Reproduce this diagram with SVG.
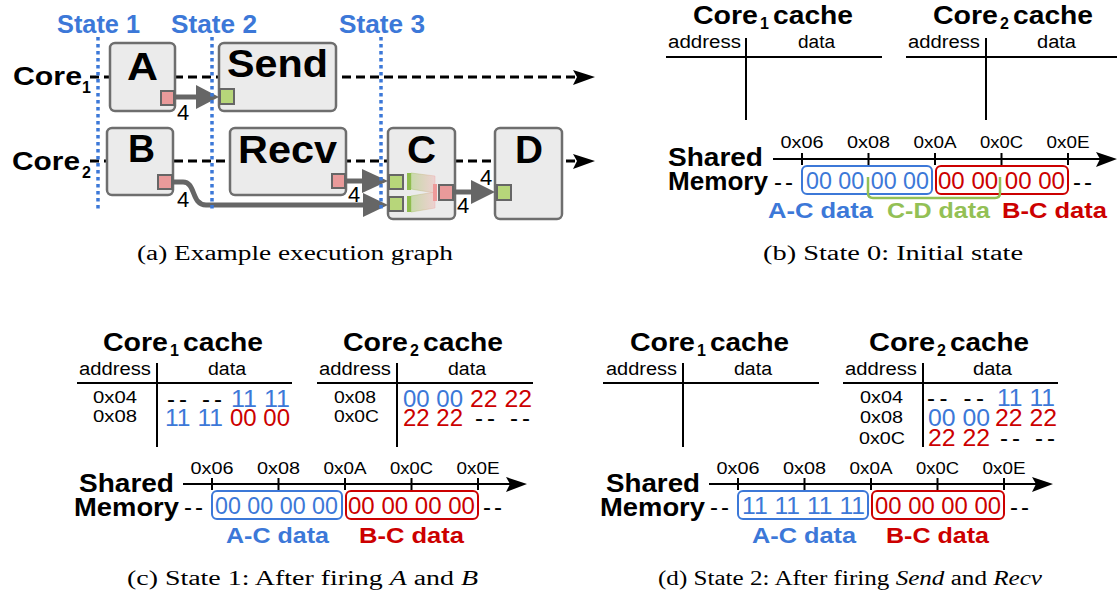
<svg xmlns="http://www.w3.org/2000/svg" width="1117" height="599" viewBox="0 0 1117 599">
<defs>
<style>
text{font-family:"Liberation Sans",Arial,sans-serif;fill:#000}
.b{font-weight:bold}
.title{font-size:25px;font-weight:bold}
.sub{font-size:16px;font-weight:bold}
.hdr{font-size:18px}
.addr{font-size:17px}
.byte{font-size:24px}
.tick{font-size:16px;text-anchor:middle}
.lbl{font-size:22px;font-weight:bold}
.node-t{font-size:38px;font-weight:bold}
.num{font-size:22px}
.cap{font-family:"Liberation Serif","DejaVu Serif",serif;font-size:20px}
.blue{fill:#3c78d8}
.red{fill:#cc0000}
.green{fill:#93c055}
.node{fill:#ebebeb;stroke:#6e6e6e;stroke-width:2.5}
.pr{fill:#e99a9a;stroke:#666;stroke-width:2}
.pg{fill:#b7d67a;stroke:#666;stroke-width:2}
.tl{stroke:#000;stroke-width:2.8;stroke-dasharray:9 5;fill:none}
.gl{stroke:#666;stroke-width:5;fill:none}
.ga{fill:#666}
.dot{stroke:#3c78d8;stroke-width:3.5;stroke-dasharray:3.5 3.5}
.ln{stroke:#000;stroke-width:2}
.bx{fill:none;stroke-width:2;rx:5}
</style>
<linearGradient id="fun" x1="0" y1="0" x2="1" y2="0">
<stop offset="0" stop-color="#9cc55a" stop-opacity="0.45"/>
<stop offset="1" stop-color="#f0a8a8" stop-opacity="0.4"/>
</linearGradient>
</defs>
<rect width="1117" height="599" fill="#fff"/>

<!-- Panel (a) -->
<g id="timelines">
<line class="tl" x1="90" y1="77" x2="578" y2="77"/>
<polygon points="573,70 595,77 573,85 577,77" fill="#000"/>
<line class="tl" x1="90" y1="161" x2="578" y2="161"/>
<polygon points="573,154 595,161 573,169 577,161" fill="#000"/>
</g>

<g id="core-labels">
<text class="title" x="13" y="85" textLength="69" lengthAdjust="spacingAndGlyphs">Core</text>
<text class="sub" x="82" y="93" font-size="17">1</text>
<text class="title" x="12" y="170" textLength="68" lengthAdjust="spacingAndGlyphs">Core</text>
<text class="sub" x="82" y="178">2</text>
</g>

<g id="node-A">
<rect class="node" x="110" y="43" width="65" height="68" rx="5"/>
<text class="node-t" x="127" y="80" textLength="31" lengthAdjust="spacingAndGlyphs">A</text>
<rect class="pr" x="161" y="91" width="13" height="14"/>
</g>
<g id="node-B">
<rect class="node" x="107" y="128" width="66" height="67" rx="5"/>
<text class="node-t" x="128" y="162" textLength="27" lengthAdjust="spacingAndGlyphs">B</text>
<rect class="pr" x="158" y="175" width="14" height="14"/>
</g>
<g id="node-Send">
<rect class="node" x="219" y="43" width="117" height="68" rx="5"/>
<text class="node-t" x="227" y="77" textLength="101" lengthAdjust="spacingAndGlyphs">Send</text>
<rect class="pg" x="220" y="89" width="14" height="15"/>
</g>
<g id="node-Recv">
<rect class="node" x="230" y="128" width="116" height="67" rx="5"/>
<text class="node-t" x="238" y="163" textLength="99" lengthAdjust="spacingAndGlyphs">Recv</text>
<rect class="pr" x="332" y="174" width="13" height="14"/>
</g>
<g id="node-C">
<rect class="node" x="388" y="128" width="67" height="91" rx="5"/>
<text class="node-t" x="407" y="163" textLength="29" lengthAdjust="spacingAndGlyphs">C</text>
<polygon points="411,173 435,176 435,193 411,189" fill="url(#fun)" stroke="url(#fun)" stroke-width="1"/>
<polygon points="411,196 435,192 435,208 411,212" fill="url(#fun)" stroke="url(#fun)" stroke-width="1"/>
<rect x="407" y="173" width="4" height="17" fill="#8fbc4f"/>
<rect x="407" y="196" width="4" height="16" fill="#8fbc4f"/>
<rect x="433" y="184" width="4" height="17" fill="#ee9a9a"/>
<rect class="pg" x="389" y="175" width="14" height="14"/>
<rect class="pg" x="389" y="197" width="14" height="14"/>
<rect class="pr" x="439" y="185" width="14" height="15"/>
</g>
<g id="node-D">
<rect class="node" x="495" y="128" width="67" height="91" rx="5"/>
<text class="node-t" x="515" y="163" textLength="28" lengthAdjust="spacingAndGlyphs">D</text>
<rect class="pg" x="497" y="185" width="14" height="15"/>
</g>

<g id="connectors">
<line class="gl" x1="174" y1="97" x2="200" y2="97"/>
<polygon class="ga" points="196,85 219,97 196,109"/>
<text class="num" x="177" y="120">4</text>
<path class="gl" d="M172,182 L183,182 C196,182 191,205 206,205 L367,205"/>
<polygon class="ga" points="363,193 388,205 363,217"/>
<text class="num" x="177" y="207">4</text>
<line class="gl" x1="345" y1="181" x2="366" y2="181"/>
<polygon class="ga" points="362,169 388,181 362,193"/>
<text class="num" x="348" y="202">4</text>
<line class="gl" x1="453" y1="192" x2="475" y2="192"/>
<polygon class="ga" points="471,180 495,192 471,204"/>
<text class="num" x="480" y="185">4</text>
<text class="num" x="457" y="213">4</text>
</g>

<g id="states">
<line class="dot" x1="98" y1="37" x2="98" y2="211"/>
<line class="dot" x1="212" y1="37" x2="212" y2="211"/>
<line class="dot" x1="381" y1="37" x2="381" y2="211"/>
<text class="title blue" x="57" y="33" textLength="83" lengthAdjust="spacingAndGlyphs">State 1</text>
<text class="title blue" x="171" y="33" textLength="86" lengthAdjust="spacingAndGlyphs">State 2</text>
<text class="title blue" x="339" y="33" textLength="86" lengthAdjust="spacingAndGlyphs">State 3</text>
</g>
<text class="cap" x="137" y="260" textLength="316" lengthAdjust="spacingAndGlyphs">(a) Example execution graph</text>

<!-- Panel (b) -->
<g id="b-core1-cache">
<text class="title" x="693" y="24" textLength="65" lengthAdjust="spacingAndGlyphs">Core</text>
<text class="sub" x="760" y="29" font-size="14">1</text>
<text class="title" x="773" y="24" textLength="80" lengthAdjust="spacingAndGlyphs">cache</text>
<text class="hdr" x="668" y="48" textLength="73" lengthAdjust="spacingAndGlyphs">address</text>
<text class="hdr" x="798" y="48" textLength="37" lengthAdjust="spacingAndGlyphs">data</text>
<line class="ln" x1="666" y1="57" x2="882" y2="57"/>
<line class="ln" x1="746" y1="38" x2="746" y2="120"/>
</g>
<g id="b-core2-cache">
<text class="title" x="933" y="24" textLength="65" lengthAdjust="spacingAndGlyphs">Core</text>
<text class="sub" x="1000" y="29" font-size="14">2</text>
<text class="title" x="1013" y="24" textLength="80" lengthAdjust="spacingAndGlyphs">cache</text>
<text class="hdr" x="908" y="48" textLength="72" lengthAdjust="spacingAndGlyphs">address</text>
<text class="hdr" x="1037" y="48" textLength="39" lengthAdjust="spacingAndGlyphs">data</text>
<line class="ln" x1="906" y1="57" x2="1117" y2="57"/>
<line class="ln" x1="986" y1="38" x2="986" y2="120"/>
</g>
<g id="b-memory">
<text class="title" x="668" y="166" textLength="95" lengthAdjust="spacingAndGlyphs">Shared</text>
<text class="title" x="668" y="190" textLength="100" lengthAdjust="spacingAndGlyphs">Memory</text>
<line class="ln" x1="773" y1="159" x2="1100" y2="159" stroke-width="2.5"/>
<polygon points="1096,152 1117,159 1096,167 1100,159" fill="#000"/>
<g class="ln">
<line x1="802" y1="153" x2="802" y2="165"/><line x1="868.5" y1="153" x2="868.5" y2="165"/><line x1="935" y1="153" x2="935" y2="165"/><line x1="1001.5" y1="153" x2="1001.5" y2="165"/><line x1="1068" y1="153" x2="1068" y2="165"/>
</g>
<text class="tick" x="802" y="148" textLength="43" lengthAdjust="spacingAndGlyphs">0x06</text>
<text class="tick" x="868.5" y="148" textLength="43" lengthAdjust="spacingAndGlyphs">0x08</text>
<text class="tick" x="935" y="148" textLength="43" lengthAdjust="spacingAndGlyphs">0x0A</text>
<text class="tick" x="1001.5" y="148" textLength="43" lengthAdjust="spacingAndGlyphs">0x0C</text>
<text class="tick" x="1068" y="148" textLength="43" lengthAdjust="spacingAndGlyphs">0x0E</text>
<text class="byte" x="774" y="190" font-size="22" textLength="19" lengthAdjust="spacing">--</text>
<text class="byte" x="1073" y="190" font-size="22" textLength="19" lengthAdjust="spacing">--</text>
<rect class="bx" x="802" y="166" width="130" height="28" stroke="#3c78d8"/>
<rect class="bx" x="936" y="166" width="132" height="28" stroke="#cc0000"/>
<path d="M868,177 L868,193 Q868,198 873,198 L995,198 Q1000,198 1000,193 L1000,177" fill="none" stroke="#93c055" stroke-width="2.5"/>
<text class="byte blue" x="806" y="189" textLength="123" lengthAdjust="spacingAndGlyphs">00 00 00 00</text>
<text class="byte red" x="938" y="189" textLength="127" lengthAdjust="spacingAndGlyphs">00 00 00 00</text>
<text class="lbl blue" x="768" y="218" textLength="105" lengthAdjust="spacingAndGlyphs">A-C data</text>
<text class="lbl green" x="887" y="218" textLength="103" lengthAdjust="spacingAndGlyphs">C-D data</text>
<text class="lbl red" x="1002" y="218" textLength="105" lengthAdjust="spacingAndGlyphs">B-C data</text>
</g>
<text class="cap" x="763" y="260" textLength="260" lengthAdjust="spacingAndGlyphs">(b) State 0: Initial state</text>

<!-- Panel (c) -->
<g id="c-core1-cache">
<text class="title" x="103" y="351" textLength="65" lengthAdjust="spacingAndGlyphs">Core</text>
<text class="sub" x="170" y="356" font-size="14">1</text>
<text class="title" x="183" y="351" textLength="80" lengthAdjust="spacingAndGlyphs">cache</text>
<text class="hdr" x="79" y="375" textLength="72" lengthAdjust="spacingAndGlyphs">address</text>
<text class="hdr" x="208" y="375" textLength="38" lengthAdjust="spacingAndGlyphs">data</text>
<line class="ln" x1="77" y1="383" x2="292" y2="383"/>
<line class="ln" x1="157" y1="363" x2="157" y2="447"/>
<text class="addr" x="93" y="403" textLength="44" lengthAdjust="spacingAndGlyphs">0x04</text>
<text class="addr" x="93" y="422" textLength="44" lengthAdjust="spacingAndGlyphs">0x08</text>
<text class="byte" x="167" y="407" textLength="55" lengthAdjust="spacing">-- --</text>
<text class="byte blue" x="231" y="407" textLength="59" lengthAdjust="spacingAndGlyphs">11 11</text>
<text class="byte blue" x="165" y="426" textLength="58" lengthAdjust="spacingAndGlyphs">11 11</text>
<text class="byte red" x="230" y="426" textLength="60" lengthAdjust="spacingAndGlyphs">00 00</text>
</g>
<g id="c-core2-cache">
<text class="title" x="343" y="351" textLength="65" lengthAdjust="spacingAndGlyphs">Core</text>
<text class="sub" x="410" y="356" font-size="14">2</text>
<text class="title" x="423" y="351" textLength="80" lengthAdjust="spacingAndGlyphs">cache</text>
<text class="hdr" x="319" y="375" textLength="72" lengthAdjust="spacingAndGlyphs">address</text>
<text class="hdr" x="448" y="375" textLength="38" lengthAdjust="spacingAndGlyphs">data</text>
<line class="ln" x1="317" y1="383" x2="533" y2="383"/>
<line class="ln" x1="397" y1="363" x2="397" y2="447"/>
<text class="addr" x="334" y="403" textLength="42" lengthAdjust="spacingAndGlyphs">0x08</text>
<text class="addr" x="334" y="422" textLength="45" lengthAdjust="spacingAndGlyphs">0x0C</text>
<text class="byte blue" x="403" y="407" textLength="60" lengthAdjust="spacingAndGlyphs">00 00</text>
<text class="byte red" x="470" y="407" textLength="62" lengthAdjust="spacingAndGlyphs">22 22</text>
<text class="byte red" x="403" y="426" textLength="60" lengthAdjust="spacingAndGlyphs">22 22</text>
<text class="byte" x="475" y="426" textLength="55" lengthAdjust="spacing">-- --</text>
</g>
<g id="c-memory">
<text class="title" x="79" y="492" textLength="95" lengthAdjust="spacingAndGlyphs">Shared</text>
<text class="title" x="74" y="516" textLength="105" lengthAdjust="spacingAndGlyphs">Memory</text>
<line class="ln" x1="183" y1="484" x2="510" y2="484" stroke-width="2.5"/>
<polygon points="506,477 527,484 506,492 510,484" fill="#000"/>
<g class="ln">
<line x1="212" y1="478" x2="212" y2="490"/><line x1="278.5" y1="478" x2="278.5" y2="490"/><line x1="345" y1="478" x2="345" y2="490"/><line x1="411.5" y1="478" x2="411.5" y2="490"/><line x1="478" y1="478" x2="478" y2="490"/>
</g>
<text class="tick" x="212" y="474" textLength="43" lengthAdjust="spacingAndGlyphs">0x06</text>
<text class="tick" x="278.5" y="474" textLength="43" lengthAdjust="spacingAndGlyphs">0x08</text>
<text class="tick" x="345" y="474" textLength="43" lengthAdjust="spacingAndGlyphs">0x0A</text>
<text class="tick" x="411.5" y="474" textLength="43" lengthAdjust="spacingAndGlyphs">0x0C</text>
<text class="tick" x="478" y="474" textLength="43" lengthAdjust="spacingAndGlyphs">0x0E</text>
<text class="byte" x="184" y="515" font-size="22" textLength="19" lengthAdjust="spacing">--</text>
<text class="byte" x="483" y="515" font-size="22" textLength="19" lengthAdjust="spacing">--</text>
<rect class="bx" x="212" y="491" width="130" height="28" stroke="#3c78d8"/>
<rect class="bx" x="346" y="491" width="132" height="28" stroke="#cc0000"/>
<text class="byte blue" x="215" y="514" textLength="123" lengthAdjust="spacingAndGlyphs">00 00 00 00</text>
<text class="byte red" x="348" y="514" textLength="127" lengthAdjust="spacingAndGlyphs">00 00 00 00</text>
<text class="lbl blue" x="226" y="543" textLength="103" lengthAdjust="spacingAndGlyphs">A-C data</text>
<text class="lbl red" x="359" y="543" textLength="105" lengthAdjust="spacingAndGlyphs">B-C data</text>
</g>
<text class="cap" x="127" y="585" textLength="351" lengthAdjust="spacingAndGlyphs">(c) State 1: After firing <tspan font-style="italic">A</tspan> and <tspan font-style="italic">B</tspan></text>

<!-- Panel (d) -->
<g id="d-core1-cache">
<text class="title" x="630" y="351" textLength="65" lengthAdjust="spacingAndGlyphs">Core</text>
<text class="sub" x="697" y="356" font-size="14">1</text>
<text class="title" x="710" y="351" textLength="79" lengthAdjust="spacingAndGlyphs">cache</text>
<text class="hdr" x="606" y="375" textLength="71" lengthAdjust="spacingAndGlyphs">address</text>
<text class="hdr" x="734" y="375" textLength="38" lengthAdjust="spacingAndGlyphs">data</text>
<line class="ln" x1="603" y1="383" x2="819" y2="383"/>
<line class="ln" x1="683" y1="363" x2="683" y2="447"/>
</g>
<g id="d-core2-cache">
<text class="title" x="869" y="351" textLength="66" lengthAdjust="spacingAndGlyphs">Core</text>
<text class="sub" x="937" y="356" font-size="14">2</text>
<text class="title" x="950" y="351" textLength="79" lengthAdjust="spacingAndGlyphs">cache</text>
<text class="hdr" x="845" y="375" textLength="72" lengthAdjust="spacingAndGlyphs">address</text>
<text class="hdr" x="973" y="375" textLength="39" lengthAdjust="spacingAndGlyphs">data</text>
<line class="ln" x1="843" y1="383" x2="1058" y2="383"/>
<line class="ln" x1="923" y1="363" x2="923" y2="447"/>
<text class="addr" x="860" y="403" textLength="43" lengthAdjust="spacingAndGlyphs">0x04</text>
<text class="addr" x="860" y="423" textLength="43" lengthAdjust="spacingAndGlyphs">0x08</text>
<text class="addr" x="859" y="444" textLength="46" lengthAdjust="spacingAndGlyphs">0x0C</text>
<text class="byte" x="927" y="406" textLength="57" lengthAdjust="spacing">-- --</text>
<text class="byte blue" x="997" y="406" textLength="58" lengthAdjust="spacingAndGlyphs">11 11</text>
<text class="byte blue" x="928" y="426" textLength="62" lengthAdjust="spacingAndGlyphs">00 00</text>
<text class="byte red" x="995" y="426" textLength="62" lengthAdjust="spacingAndGlyphs">22 22</text>
<text class="byte red" x="928" y="446" textLength="62" lengthAdjust="spacingAndGlyphs">22 22</text>
<text class="byte" x="1000" y="446" textLength="55" lengthAdjust="spacing">-- --</text>
</g>
<g id="d-memory">
<text class="title" x="606" y="492" textLength="94" lengthAdjust="spacingAndGlyphs">Shared</text>
<text class="title" x="600" y="516" textLength="105" lengthAdjust="spacingAndGlyphs">Memory</text>
<line class="ln" x1="709" y1="484" x2="1036" y2="484" stroke-width="2.5"/>
<polygon points="1032,477 1053,484 1032,492 1036,484" fill="#000"/>
<g class="ln">
<line x1="738" y1="478" x2="738" y2="490"/><line x1="804.5" y1="478" x2="804.5" y2="490"/><line x1="871" y1="478" x2="871" y2="490"/><line x1="937.5" y1="478" x2="937.5" y2="490"/><line x1="1004" y1="478" x2="1004" y2="490"/>
</g>
<text class="tick" x="738" y="474" textLength="43" lengthAdjust="spacingAndGlyphs">0x06</text>
<text class="tick" x="804.5" y="474" textLength="43" lengthAdjust="spacingAndGlyphs">0x08</text>
<text class="tick" x="871" y="474" textLength="43" lengthAdjust="spacingAndGlyphs">0x0A</text>
<text class="tick" x="937.5" y="474" textLength="43" lengthAdjust="spacingAndGlyphs">0x0C</text>
<text class="tick" x="1004" y="474" textLength="43" lengthAdjust="spacingAndGlyphs">0x0E</text>
<text class="byte" x="710" y="515" font-size="22" textLength="19" lengthAdjust="spacing">--</text>
<text class="byte" x="1010" y="515" font-size="22" textLength="19" lengthAdjust="spacing">--</text>
<rect class="bx" x="738" y="491" width="130" height="28" stroke="#3c78d8"/>
<rect class="bx" x="872" y="491" width="132" height="28" stroke="#cc0000"/>
<text class="byte blue" x="742" y="514" textLength="123" lengthAdjust="spacingAndGlyphs">11 11 11 11</text>
<text class="byte red" x="875" y="514" textLength="126" lengthAdjust="spacingAndGlyphs">00 00 00 00</text>
<text class="lbl blue" x="752" y="543" textLength="104" lengthAdjust="spacingAndGlyphs">A-C data</text>
<text class="lbl red" x="886" y="543" textLength="103" lengthAdjust="spacingAndGlyphs">B-C data</text>
</g>
<text class="cap" x="658" y="585" textLength="384" lengthAdjust="spacingAndGlyphs">(d) State 2: After firing <tspan font-style="italic">Send</tspan> and <tspan font-style="italic">Recv</tspan></text>
</svg>
